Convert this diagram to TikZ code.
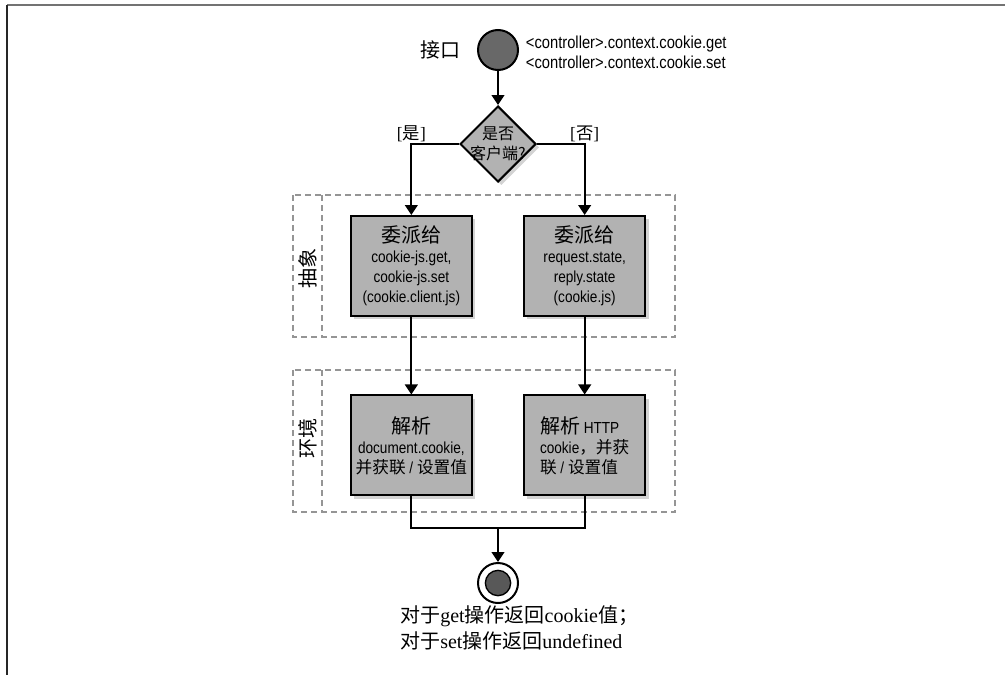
\documentclass[tikz,border=0pt]{standalone}
\usepackage{xcolor}
\usepackage{fontspec}
\setmainfont{Liberation Serif}
\newfontfamily\cjk{Noto Sans CJK SC}
\newfontfamily\cond[FakeStretch=0.85]{Liberation Sans}
\usetikzlibrary{shapes.geometric, positioning, shadows, arrows.meta}

\definecolor{boxgray}{HTML}{B2B2B2}
\definecolor{dotgray}{HTML}{686868}
\definecolor{layergray}{HTML}{959595}

\newcommand\zhbig[1]{{\cjk\fontsize{15}{18}\selectfont #1}}
\newcommand\zh[1]{{\cjk\fontsize{12.5}{15}\selectfont #1}}

\tikzset{
  flow/.style={line width=1.5pt, -{Triangle[width=9.5pt,length=7.5pt]}},
  wire/.style={line width=1.5pt},
  task/.style={rectangle, draw, line width=1.5pt, fill=boxgray,
    minimum width=91pt, minimum height=75pt, inner sep=2pt, align=center,
    font=\cond\fontsize{12}{15}\selectfont,
    drop shadow={opacity=0.35, shadow xshift=2.5pt, shadow yshift=-2.5pt}},
  decision/.style={diamond, draw, line width=1.5pt, fill=boxgray,
    minimum width=57pt, minimum height=57pt, inner sep=0pt,
    drop shadow={opacity=0.35, shadow xshift=2.5pt, shadow yshift=-2.5pt}},
  startdot/.style={circle, draw, line width=1.5pt, fill=dotgray,
    minimum size=30pt, inner sep=0pt},
  enddot/.style={circle, draw, line width=1.5pt, fill=white,
    minimum size=30pt, inner sep=0pt,
    path picture={\fill[dotgray!85!black, draw=black, line width=1pt]
      (path picture bounding box.center) circle (9.5pt);}},
  layer/.style={draw=layergray, line width=1.4pt, dash pattern=on 4.5pt off 3pt},
  sidetag/.style={rotate=90, font=\cjk\fontsize{15}{18}\selectfont},
  guard/.style={inner sep=1pt, font=\fontsize{13}{15}\selectfont}
}

\begin{document}
\begin{tikzpicture}[x=0.75pt, y=-0.75pt, node distance=2cm, on grid]
  \useasboundingbox (0,0) rectangle (1005,675);

  % page frame
  \draw[black!55, line width=1.2pt] (7,5) -- (1005,5);
  \draw[black!85, line width=1pt] (7,5) -- (7,675);

  % layers
  \draw[layer] (293,195) rectangle (675,337);
  \draw[layer] (322,195) -- (322,337);
  \draw[layer] (293,370) rectangle (675,512);
  \draw[layer] (322,370) -- (322,512);
  \node[sidetag] (abst) at (308,268) {抽象};
  \node[sidetag] (env) at (308,438) {环境};

  % nodes
  \node[startdot] (start) at (498,50) {};
  \node[anchor=east, font=\cjk\fontsize{15}{18}\selectfont] (iface)
    at ([xshift=-9pt]start.west) {接口};
  \node[anchor=west, align=left, inner sep=0pt, font=\cond\fontsize{13}{15}\selectfont] (calls)
    at ([xshift=5pt, yshift=-2pt]start.east)
    {<controller>.context.cookie.get\\<controller>.context.cookie.set};

  \node[decision, below=70.5pt of start, label={[font=\cjk\fontsize{12}{15}\selectfont, align=center]center:是否\\客户端?}] (dec) {};

  \node[task, below left=91.5pt and 65pt of dec] (deleg-l)
    {\zhbig{委派给}\\cookie-js.get,\\cookie-js.set\\(cookie.client.js)};
  \node[task, below right=91.5pt and 65pt of dec] (deleg-r)
    {\zhbig{委派给}\\request.state,\\reply.state\\(cookie.js)};

  \node[task, below=134.6pt of deleg-l] (parse-l)
    {\zhbig{解析}\\document.cookie,\\\zh{并获联} / \zh{设置值}};
  \node[task, below=134.6pt of deleg-r, align=left] (parse-r)
    {\zhbig{解析} HTTP\\cookie\zh{，并获}\\\zh{联} / \zh{设置值}};

  \coordinate (join) at (498,528);
  \node[enddot] (end) at (498,583) {};
  \node[anchor=north west, align=left, inner sep=0pt,
    font=\fontsize{15}{19.5}\selectfont] (result) at (400,605)
    {{\cjk 对于}get{\cjk 操作返回}cookie{\cjk 值；}\\{\cjk 对于}set{\cjk 操作返回}undefined};

  % connectors
  \draw[flow] (start) -- (dec);
  \draw[flow] (dec.west) -| node[guard, pos=0.5, above] (yes) {[{\cjk 是}]} (deleg-l.north);
  \draw[flow] (dec.east) -| node[guard, pos=0.5, above] (no) {[{\cjk 否}]} (deleg-r.north);
  \draw[flow] (deleg-l) -- (parse-l);
  \draw[flow] (deleg-r) -- (parse-r);
  \draw[wire] (parse-l.south) |- (join) -| (parse-r.south);
  \draw[flow] (join) -- (end);
\end{tikzpicture}
\end{document}
